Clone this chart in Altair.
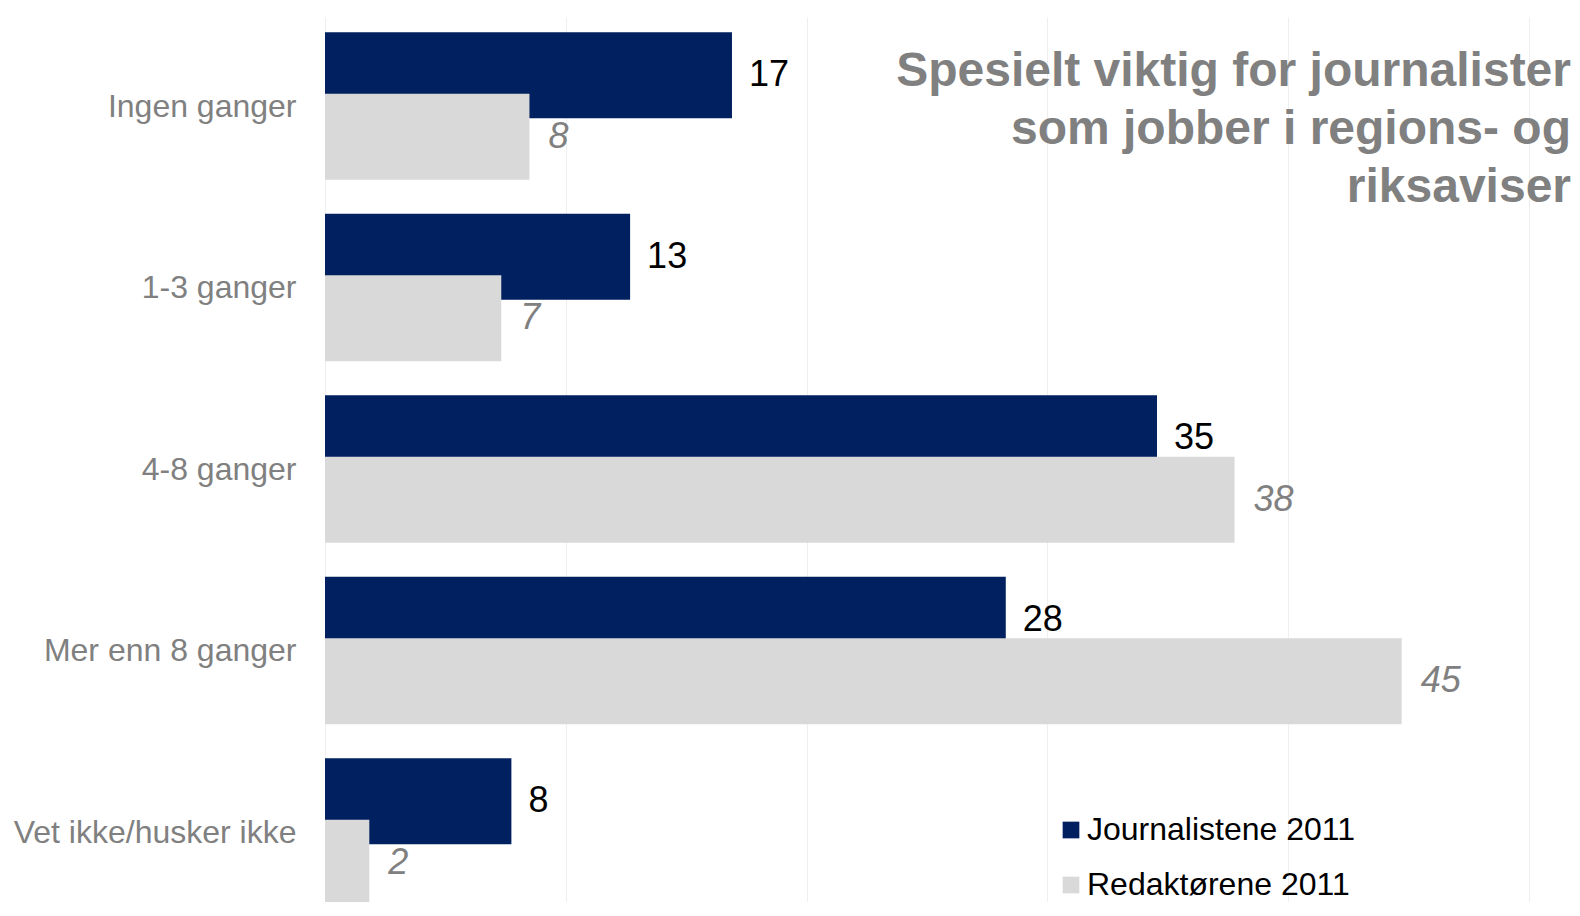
import altair as alt
import pandas as pd

# ---- data (bar lengths; labels show them rounded) ----
categories = ["Ingen ganger", "1-3 ganger", "4-8 ganger", "Mer enn 8 ganger", "Vet ikke/husker ikke"]
journalistene = [16.9, 12.67, 34.55, 28.27, 7.74]
redaktorene = [8.49, 7.32, 37.77, 44.71, 1.84]
series_names = ["Journalistene 2011", "Redaktørene 2011"]
title_lines = ["Spesielt viktig for journalister", "som jobber i regions- og", "riksaviser"]
grid_values = [0, 10, 20, 30, 40, 50]

NAVY = "#00205F"
GRAY = "#D9D9D9"
TEXT_GRAY = "#808080"
FONT = "Liberation Sans"

rows = []
for i, c in enumerate(categories):
    rows.append({"kategori": c, "idx": i, "serie": series_names[0], "verdi": journalistene[i]})
    rows.append({"kategori": c, "idx": i, "serie": series_names[1], "verdi": redaktorene[i]})
df = pd.DataFrame(rows)

W, H = 1245, 885
STEP = 181.5
FIRST = 89.0
lo = -FIRST / STEP
hi = lo + H / STEP
OFF = 30.7
BAR_H = 86

label_expr = "[" + ",".join("'" + c + "'" for c in categories) + "][datum.value]"

x_enc = alt.X(
    "verdi:Q",
    stack=None,
    scale=alt.Scale(domain=[0, 51.70], nice=False, zero=True, padding=0),
    axis=alt.Axis(values=grid_values, labels=False, ticks=False, domain=False,
                  title=None, grid=True, gridColor="#EFEFEF", gridWidth=1),
)
y_enc = alt.Y(
    "idx:Q",
    scale=alt.Scale(domain=[lo, hi], nice=False, zero=False, reverse=True, padding=0),
    axis=alt.Axis(values=list(range(len(categories))), labelExpr=label_expr,
                  labels=True, ticks=False, domain=False, grid=False, title=None,
                  labelFontSize=32, labelFont=FONT, labelColor=TEXT_GRAY,
                  labelPadding=29, labelOverlap=False, labelFlush=False,
                  labelLimit=600, labelBaseline="middle"),
)
color_enc = alt.Color(
    "serie:N",
    scale=alt.Scale(domain=series_names, range=[NAVY, GRAY]),
    legend=alt.Legend(orient="none", legendX=730, legendY=797, title=None,
                      symbolType="square", symbolSize=279, symbolStrokeWidth=0,
                      symbolOpacity=1, labelFontSize=32,
                      labelFont=FONT, labelColor="black", rowPadding=23,
                      labelOffset=0, padding=0, labelLimit=600),
)

base = alt.Chart(df)
journ = base.transform_filter(alt.datum.serie == series_names[0])
redak = base.transform_filter(alt.datum.serie == series_names[1])

navy_bar = journ.mark_bar(orient="horizontal", height=BAR_H, yOffset=-OFF).encode(
    x=x_enc, y=y_enc, color=color_enc)
gray_bar = redak.mark_bar(orient="horizontal", height=BAR_H, yOffset=OFF).encode(
    x=x_enc, y=y_enc, color=color_enc)

navy_txt = journ.mark_text(align="left", baseline="middle", dx=17, yOffset=-OFF,
                           fontSize=36, font=FONT, color="black").encode(
    x=x_enc, y=y_enc, text=alt.Text("verdi:Q", format=".0f"))
gray_txt = redak.mark_text(align="left", baseline="middle", dx=19, yOffset=OFF,
                           fontSize=36, font=FONT, fontStyle="italic",
                           color=TEXT_GRAY).encode(
    x=x_enc, y=y_enc, text=alt.Text("verdi:Q", format=".0f"))

title_txt = alt.Chart(pd.DataFrame({"t": [0]})).mark_text(
    text=title_lines, align="right", baseline="alphabetic", fontSize=48,
    fontWeight="bold", font=FONT, color=TEXT_GRAY, lineHeight=58,
).encode(x=alt.value(W + 1), y=alt.value(69))

# total svg width = 317 + 1245 + 2 = 1564 -> fits the 1580px window with 8px margins
chart = alt.layer(navy_bar, gray_bar, navy_txt, gray_txt, title_txt).properties(
    width=W, height=H,
    padding={"left": 317, "top": 9, "right": 2, "bottom": 0},
    autosize=alt.AutoSizeParams(type="none"),
).configure_view(stroke=None)

chart.save("out.html", embed_options={"renderer": "svg", "actions": False})
